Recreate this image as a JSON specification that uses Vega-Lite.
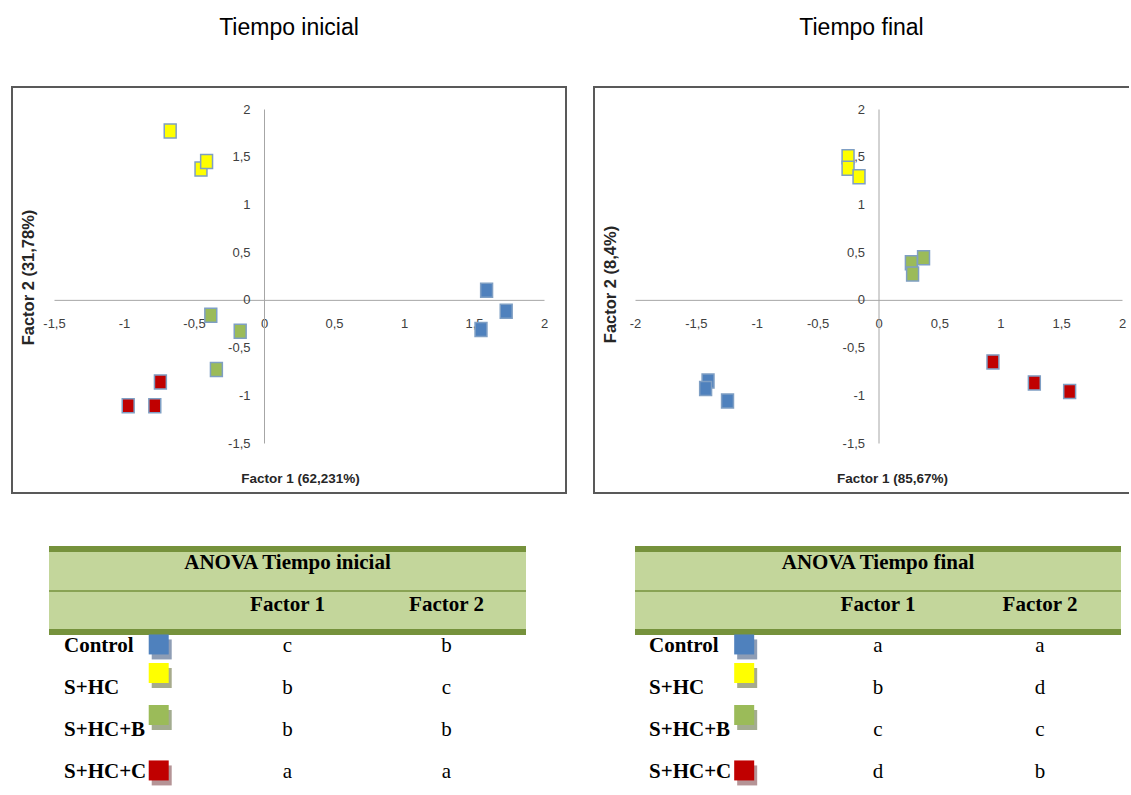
{
  "$schema": "https://vega.github.io/schema/vega-lite/v6.json",
  "background": "white",
  "padding": {"left": 11, "top": 16, "right": 0, "bottom": 0},
  "config": {
    "locale": {"number": {"decimal": ",", "thousands": ".", "grouping": [3], "currency": ["", " €"], "minus": "-"}},
    "axis": {
      "grid": false, "ticks": false, "domainColor": "#A6A6A6", "domainWidth": 1,
      "labelFont": "Liberation Sans", "labelFontSize": 13, "labelColor": "#404040",
      "labelFlush": false, "labelOverlap": false,
      "titleFont": "Liberation Sans", "titleFontSize": 13.5, "titleFontWeight": "bold",
      "titleColor": "#262626", "titleBaseline": "middle", "titleAlign": "center", "zindex": 1
    },
    "axisX": {"labelPadding": 18},
    "axisY": {"labelPadding": 14, "titleFontSize": 16.5},
    "title": {"font": "Liberation Sans", "fontSize": 23, "fontWeight": "normal", "color": "#000000", "offset": 47, "anchor": "middle"}
  },
  "datasets": {
    "pca_ini": [
      {"tratamiento": "Control", "f1": 1.59, "f2": 0.10},
      {"tratamiento": "Control", "f1": 1.73, "f2": -0.12},
      {"tratamiento": "Control", "f1": 1.55, "f2": -0.31},
      {"tratamiento": "S+HC", "f1": -0.67, "f2": 1.77},
      {"tratamiento": "S+HC", "f1": -0.45, "f2": 1.37},
      {"tratamiento": "S+HC", "f1": -0.41, "f2": 1.45},
      {"tratamiento": "S+HC+B", "f1": -0.38, "f2": -0.16},
      {"tratamiento": "S+HC+B", "f1": -0.17, "f2": -0.33},
      {"tratamiento": "S+HC+B", "f1": -0.34, "f2": -0.73},
      {"tratamiento": "S+HC+C", "f1": -0.97, "f2": -1.11},
      {"tratamiento": "S+HC+C", "f1": -0.78, "f2": -1.11},
      {"tratamiento": "S+HC+C", "f1": -0.74, "f2": -0.86}
    ],
    "pca_fin": [
      {"tratamiento": "Control", "f1": -1.40, "f2": -0.85},
      {"tratamiento": "Control", "f1": -1.42, "f2": -0.93},
      {"tratamiento": "Control", "f1": -1.24, "f2": -1.06},
      {"tratamiento": "S+HC", "f1": -0.25, "f2": 1.50},
      {"tratamiento": "S+HC", "f1": -0.25, "f2": 1.38},
      {"tratamiento": "S+HC", "f1": -0.16, "f2": 1.29},
      {"tratamiento": "S+HC+B", "f1": 0.27, "f2": 0.39},
      {"tratamiento": "S+HC+B", "f1": 0.37, "f2": 0.44},
      {"tratamiento": "S+HC+B", "f1": 0.28, "f2": 0.27},
      {"tratamiento": "S+HC+C", "f1": 0.94, "f2": -0.65},
      {"tratamiento": "S+HC+C", "f1": 1.28, "f2": -0.87},
      {"tratamiento": "S+HC+C", "f1": 1.57, "f2": -0.96}
    ],
    "anova_ini": [
      {"tratamiento": "Control", "Factor 1": "c", "Factor 2": "b"},
      {"tratamiento": "S+HC", "Factor 1": "b", "Factor 2": "c"},
      {"tratamiento": "S+HC+B", "Factor 1": "b", "Factor 2": "b"},
      {"tratamiento": "S+HC+C", "Factor 1": "a", "Factor 2": "a"}
    ],
    "anova_fin": [
      {"tratamiento": "Control", "Factor 1": "a", "Factor 2": "a"},
      {"tratamiento": "S+HC", "Factor 1": "b", "Factor 2": "d"},
      {"tratamiento": "S+HC+B", "Factor 1": "c", "Factor 2": "c"},
      {"tratamiento": "S+HC+C", "Factor 1": "d", "Factor 2": "b"}
    ],
    "columnas": [
      {"columna": "Tratamiento", "encabezado": ""},
      {"columna": "Factor 1", "encabezado": "Factor 1"},
      {"columna": "Factor 2", "encabezado": "Factor 2"}
    ]
  },
  "spacing": 10,
  "vconcat": [
    {
      "spacing": 26,
      "hconcat": [
        {
          "title": "Tiempo inicial",
          "width": 554,
          "height": 406,
          "view": {"stroke": "#595959", "strokeWidth": 2},
          "data": {"name": "pca_ini"},
          "mark": {"type": "point", "filled": true, "shape": "M-0.85,-1H0.85V1H-0.85Z", "size": 196, "stroke": "#7F9FC4", "strokeWidth": 1.5, "opacity": 1},
          "encoding": {
            "x": {
              "field": "f1", "type": "quantitative",
              "scale": {"domain": [-1.5, 2], "range": [42, 532], "nice": false, "zero": false},
              "axis": {"orient": "bottom", "offset": -193.14, "values": [-1.5, -1, -0.5, 0, 0.5, 1, 1.5, 2], "format": "~g",
                       "title": "Factor 1 (62,231%)", "titleX": 288, "titleY": 179}
            },
            "y": {
              "field": "f2", "type": "quantitative",
              "scale": {"domain": [-1.5, 2], "range": [356, 22], "nice": false, "zero": false},
              "axis": {"orient": "left", "offset": -252, "values": [-1.5, -1, -0.5, 0, 0.5, 1, 1.5, 2], "format": "~g",
                       "title": "Factor 2 (31,78%)", "titleAngle": -90, "titleX": -236, "titleY": 190}
            },
            "fill": {
              "field": "tratamiento", "type": "nominal",
              "scale": {"domain": ["Control", "S+HC", "S+HC+B", "S+HC+C"], "range": ["#4F81BD", "#FFFF00", "#9BBB59", "#C00000"]},
              "legend": null
            }
          }
        },
        {
          "title": "Tiempo final",
          "width": 535,
          "height": 406,
          "view": {"stroke": "#595959", "strokeWidth": 2, "strokeDash": [535, 406, 941]},
          "data": {"name": "pca_fin"},
          "mark": {"type": "point", "filled": true, "shape": "M-0.85,-1H0.85V1H-0.85Z", "size": 196, "stroke": "#7F9FC4", "strokeWidth": 1.5, "opacity": 1},
          "encoding": {
            "x": {
              "field": "f1", "type": "quantitative",
              "scale": {"domain": [-2, 2], "range": [41, 528], "nice": false, "zero": false},
              "axis": {"orient": "bottom", "offset": -193.14, "values": [-2, -1.5, -1, -0.5, 0, 0.5, 1, 1.5, 2], "format": "~g",
                       "title": "Factor 1 (85,67%)", "titleX": 298, "titleY": 179}
            },
            "y": {
              "field": "f2", "type": "quantitative",
              "scale": {"domain": [-1.5, 2], "range": [356, 22], "nice": false, "zero": false},
              "axis": {"orient": "left", "offset": -284.5, "values": [-1.5, -1, -0.5, 0, 0.5, 1, 1.5, 2], "format": "~g",
                       "title": "Factor 2 (8,4%)", "titleAngle": -90, "titleX": -268, "titleY": 197}
            },
            "fill": {
              "field": "tratamiento", "type": "nominal",
              "scale": {"domain": ["Control", "S+HC", "S+HC+B", "S+HC+C"], "range": ["#4F81BD", "#FFFF00", "#9BBB59", "#C00000"]},
              "legend": null
            }
          }
        }
      ]
    },
    {
      "spacing": 28,
      "hconcat": [
        {
          "width": 554,
          "height": 290,
          "view": {"stroke": null},
          "resolve": {"scale": {"color": "independent"}},
          "layer": [
            {
              "data": {"name": "columnas"},
              "mark": {"type": "rect", "fill": "#C3D69B"},
              "encoding": {
                "x": {"field": "columna", "type": "nominal", "axis": null,
                      "scale": {"type": "band", "domain": ["Tratamiento", "Factor 1", "Factor 2"], "range": [37, 514], "paddingInner": 0, "paddingOuter": 0}},
                "y": {"datum": "titulo", "type": "nominal", "axis": null,
                      "scale": {"type": "band", "domain": ["titulo", "cabecera", "Control", "S+HC", "S+HC+B", "S+HC+C"], "range": [43, 295], "paddingInner": 0, "paddingOuter": 0}}
              }
            },
            {
              "data": {"name": "columnas"},
              "mark": {"type": "rect", "fill": "#C3D69B"},
              "encoding": {
                "x": {"field": "columna", "type": "nominal"},
                "y": {"datum": "cabecera", "type": "nominal"}
              }
            },
            {
              "data": {"name": "columnas"},
              "mark": {"type": "rule", "color": "#76923C", "strokeWidth": 6, "yOffset": 2},
              "encoding": {
                "x": {"field": "columna", "type": "nominal", "bandPosition": 0},
                "x2": {"field": "columna", "bandPosition": 1},
                "y": {"datum": "titulo", "type": "nominal", "bandPosition": 0}
              }
            },
            {
              "data": {"name": "columnas"},
              "mark": {"type": "rule", "color": "#76923C", "strokeWidth": 1.5, "yOffset": 2},
              "encoding": {
                "x": {"field": "columna", "type": "nominal", "bandPosition": 0},
                "x2": {"field": "columna", "bandPosition": 1},
                "y": {"datum": "cabecera", "type": "nominal", "bandPosition": 0}
              }
            },
            {
              "data": {"name": "columnas"},
              "mark": {"type": "rule", "color": "#76923C", "strokeWidth": 6, "yOffset": 1},
              "encoding": {
                "x": {"field": "columna", "type": "nominal", "bandPosition": 0},
                "x2": {"field": "columna", "bandPosition": 1},
                "y": {"datum": "Control", "type": "nominal", "bandPosition": 0}
              }
            },
            {
              "data": {"values": [{"titulo": "ANOVA Tiempo inicial"}]},
              "mark": {"type": "text", "font": "Liberation Serif", "fontSize": 21, "fontWeight": "bold", "baseline": "middle", "color": "#000000"},
              "encoding": {
                "text": {"field": "titulo"},
                "x": {"datum": "Factor 1", "type": "nominal"},
                "y": {"datum": "titulo", "type": "nominal", "bandPosition": 0.38}
              }
            },
            {
              "data": {"name": "columnas"},
              "mark": {"type": "text", "font": "Liberation Serif", "fontSize": 21, "fontWeight": "bold", "baseline": "middle", "color": "#000000"},
              "encoding": {
                "text": {"field": "encabezado"},
                "x": {"field": "columna", "type": "nominal"},
                "y": {"datum": "cabecera", "type": "nominal", "bandPosition": 0.38}
              }
            },
            {
              "data": {"name": "anova_ini"},
              "mark": {"type": "text", "font": "Liberation Serif", "fontSize": 21, "fontWeight": "bold", "baseline": "middle", "align": "left", "dx": 15, "color": "#000000"},
              "encoding": {
                "text": {"field": "tratamiento"},
                "x": {"datum": "Tratamiento", "type": "nominal", "bandPosition": 0},
                "y": {"field": "tratamiento", "type": "nominal", "bandPosition": 0.36}
              }
            },
            {
              "data": {"name": "anova_ini"},
              "transform": [{"fold": ["Factor 1", "Factor 2"], "as": ["columna", "letra"]}],
              "mark": {"type": "text", "font": "Liberation Serif", "fontSize": 21, "baseline": "middle", "color": "#000000"},
              "encoding": {
                "text": {"field": "letra"},
                "x": {"field": "columna", "type": "nominal"},
                "y": {"field": "tratamiento", "type": "nominal", "bandPosition": 0.36}
              }
            },
            {
              "data": {"name": "anova_ini"},
              "layer": [
                {
                  "transform": [{"filter": "datum.tratamiento === 'Control' || datum.tratamiento === 'S+HC+C'"}],
                  "mark": {"type": "square", "size": 400, "opacity": 1, "xOffset": 3, "yOffset": 5},
                  "encoding": {
                    "x": {"datum": "Tratamiento", "type": "nominal", "bandPosition": 0.69},
                    "y": {"field": "tratamiento", "type": "nominal", "bandPosition": 0.32},
                    "color": {"field": "tratamiento", "type": "nominal", "legend": null,
                              "scale": {"domain": ["Control", "S+HC", "S+HC+B", "S+HC+C"], "range": ["#8E9DB5", "#A7AB8C", "#A3AC90", "#B59496"]}}
                  }
                },
                {
                  "transform": [{"filter": "datum.tratamiento === 'S+HC' || datum.tratamiento === 'S+HC+B'"}],
                  "mark": {"type": "square", "size": 400, "opacity": 1, "xOffset": 3, "yOffset": 5},
                  "encoding": {
                    "x": {"datum": "Tratamiento", "type": "nominal", "bandPosition": 0.69},
                    "y": {"field": "tratamiento", "type": "nominal", "bandPosition": 0},
                    "color": {"field": "tratamiento", "type": "nominal", "legend": null}
                  }
                }
              ]
            },
            {
              "data": {"name": "anova_ini"},
              "layer": [
                {
                  "transform": [{"filter": "datum.tratamiento === 'Control' || datum.tratamiento === 'S+HC+C'"}],
                  "mark": {"type": "square", "size": 400, "opacity": 1},
                  "encoding": {
                    "x": {"datum": "Tratamiento", "type": "nominal", "bandPosition": 0.69},
                    "y": {"field": "tratamiento", "type": "nominal", "bandPosition": 0.32},
                    "color": {"field": "tratamiento", "type": "nominal", "legend": null,
                              "scale": {"domain": ["Control", "S+HC", "S+HC+B", "S+HC+C"], "range": ["#4F81BD", "#FFFF00", "#9BBB59", "#C00000"]}}
                  }
                },
                {
                  "transform": [{"filter": "datum.tratamiento === 'S+HC' || datum.tratamiento === 'S+HC+B'"}],
                  "mark": {"type": "square", "size": 400, "opacity": 1},
                  "encoding": {
                    "x": {"datum": "Tratamiento", "type": "nominal", "bandPosition": 0.69},
                    "y": {"field": "tratamiento", "type": "nominal", "bandPosition": 0},
                    "color": {"field": "tratamiento", "type": "nominal", "legend": null}
                  }
                }
              ]
            }
          ]
        },
        {
          "width": 535,
          "height": 290,
          "view": {"stroke": null},
          "resolve": {"scale": {"color": "independent"}},
          "layer": [
            {
              "data": {"name": "columnas"},
              "mark": {"type": "rect", "fill": "#C3D69B"},
              "encoding": {
                "x": {"field": "columna", "type": "nominal", "axis": null,
                      "scale": {"type": "band", "domain": ["Tratamiento", "Factor 1", "Factor 2"], "range": [41, 527], "paddingInner": 0, "paddingOuter": 0}},
                "y": {"datum": "titulo", "type": "nominal", "axis": null,
                      "scale": {"type": "band", "domain": ["titulo", "cabecera", "Control", "S+HC", "S+HC+B", "S+HC+C"], "range": [43, 295], "paddingInner": 0, "paddingOuter": 0}}
              }
            },
            {
              "data": {"name": "columnas"},
              "mark": {"type": "rect", "fill": "#C3D69B"},
              "encoding": {
                "x": {"field": "columna", "type": "nominal"},
                "y": {"datum": "cabecera", "type": "nominal"}
              }
            },
            {
              "data": {"name": "columnas"},
              "mark": {"type": "rule", "color": "#76923C", "strokeWidth": 6, "yOffset": 2},
              "encoding": {
                "x": {"field": "columna", "type": "nominal", "bandPosition": 0},
                "x2": {"field": "columna", "bandPosition": 1},
                "y": {"datum": "titulo", "type": "nominal", "bandPosition": 0}
              }
            },
            {
              "data": {"name": "columnas"},
              "mark": {"type": "rule", "color": "#76923C", "strokeWidth": 1.5, "yOffset": 2},
              "encoding": {
                "x": {"field": "columna", "type": "nominal", "bandPosition": 0},
                "x2": {"field": "columna", "bandPosition": 1},
                "y": {"datum": "cabecera", "type": "nominal", "bandPosition": 0}
              }
            },
            {
              "data": {"name": "columnas"},
              "mark": {"type": "rule", "color": "#76923C", "strokeWidth": 6, "yOffset": 1},
              "encoding": {
                "x": {"field": "columna", "type": "nominal", "bandPosition": 0},
                "x2": {"field": "columna", "bandPosition": 1},
                "y": {"datum": "Control", "type": "nominal", "bandPosition": 0}
              }
            },
            {
              "data": {"values": [{"titulo": "ANOVA Tiempo final"}]},
              "mark": {"type": "text", "font": "Liberation Serif", "fontSize": 21, "fontWeight": "bold", "baseline": "middle", "color": "#000000"},
              "encoding": {
                "text": {"field": "titulo"},
                "x": {"datum": "Factor 1", "type": "nominal"},
                "y": {"datum": "titulo", "type": "nominal", "bandPosition": 0.38}
              }
            },
            {
              "data": {"name": "columnas"},
              "mark": {"type": "text", "font": "Liberation Serif", "fontSize": 21, "fontWeight": "bold", "baseline": "middle", "color": "#000000"},
              "encoding": {
                "text": {"field": "encabezado"},
                "x": {"field": "columna", "type": "nominal"},
                "y": {"datum": "cabecera", "type": "nominal", "bandPosition": 0.38}
              }
            },
            {
              "data": {"name": "anova_fin"},
              "mark": {"type": "text", "font": "Liberation Serif", "fontSize": 21, "fontWeight": "bold", "baseline": "middle", "align": "left", "dx": 14, "color": "#000000"},
              "encoding": {
                "text": {"field": "tratamiento"},
                "x": {"datum": "Tratamiento", "type": "nominal", "bandPosition": 0},
                "y": {"field": "tratamiento", "type": "nominal", "bandPosition": 0.36}
              }
            },
            {
              "data": {"name": "anova_fin"},
              "transform": [{"fold": ["Factor 1", "Factor 2"], "as": ["columna", "letra"]}],
              "mark": {"type": "text", "font": "Liberation Serif", "fontSize": 21, "baseline": "middle", "color": "#000000"},
              "encoding": {
                "text": {"field": "letra"},
                "x": {"field": "columna", "type": "nominal"},
                "y": {"field": "tratamiento", "type": "nominal", "bandPosition": 0.36}
              }
            },
            {
              "data": {"name": "anova_fin"},
              "layer": [
                {
                  "transform": [{"filter": "datum.tratamiento === 'Control' || datum.tratamiento === 'S+HC+C'"}],
                  "mark": {"type": "square", "size": 400, "opacity": 1, "xOffset": 3, "yOffset": 5},
                  "encoding": {
                    "x": {"datum": "Tratamiento", "type": "nominal", "bandPosition": 0.674},
                    "y": {"field": "tratamiento", "type": "nominal", "bandPosition": 0.32},
                    "color": {"field": "tratamiento", "type": "nominal", "legend": null,
                              "scale": {"domain": ["Control", "S+HC", "S+HC+B", "S+HC+C"], "range": ["#8E9DB5", "#A7AB8C", "#A3AC90", "#B59496"]}}
                  }
                },
                {
                  "transform": [{"filter": "datum.tratamiento === 'S+HC' || datum.tratamiento === 'S+HC+B'"}],
                  "mark": {"type": "square", "size": 400, "opacity": 1, "xOffset": 3, "yOffset": 5},
                  "encoding": {
                    "x": {"datum": "Tratamiento", "type": "nominal", "bandPosition": 0.674},
                    "y": {"field": "tratamiento", "type": "nominal", "bandPosition": 0},
                    "color": {"field": "tratamiento", "type": "nominal", "legend": null}
                  }
                }
              ]
            },
            {
              "data": {"name": "anova_fin"},
              "layer": [
                {
                  "transform": [{"filter": "datum.tratamiento === 'Control' || datum.tratamiento === 'S+HC+C'"}],
                  "mark": {"type": "square", "size": 400, "opacity": 1},
                  "encoding": {
                    "x": {"datum": "Tratamiento", "type": "nominal", "bandPosition": 0.674},
                    "y": {"field": "tratamiento", "type": "nominal", "bandPosition": 0.32},
                    "color": {"field": "tratamiento", "type": "nominal", "legend": null,
                              "scale": {"domain": ["Control", "S+HC", "S+HC+B", "S+HC+C"], "range": ["#4F81BD", "#FFFF00", "#9BBB59", "#C00000"]}}
                  }
                },
                {
                  "transform": [{"filter": "datum.tratamiento === 'S+HC' || datum.tratamiento === 'S+HC+B'"}],
                  "mark": {"type": "square", "size": 400, "opacity": 1},
                  "encoding": {
                    "x": {"datum": "Tratamiento", "type": "nominal", "bandPosition": 0.674},
                    "y": {"field": "tratamiento", "type": "nominal", "bandPosition": 0},
                    "color": {"field": "tratamiento", "type": "nominal", "legend": null}
                  }
                }
              ]
            }
          ]
        }
      ]
    }
  ]
}
